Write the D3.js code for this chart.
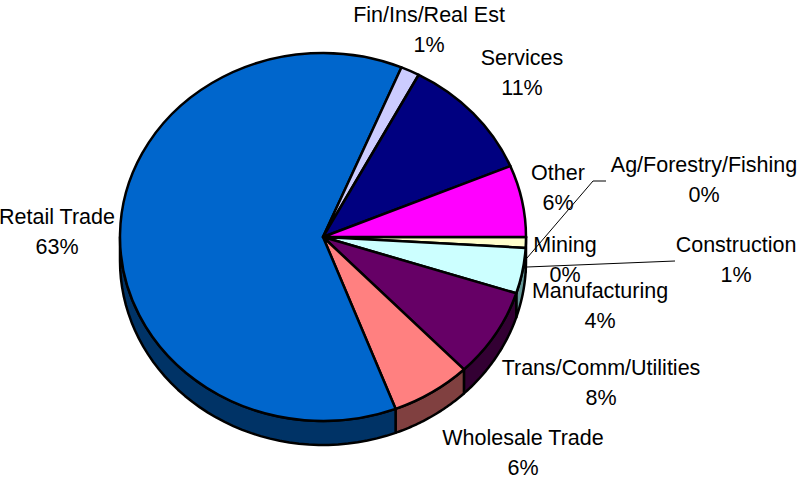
<!DOCTYPE html>
<html>
<head>
<meta charset="utf-8">
<script src="https://cdn.jsdelivr.net/npm/d3@7"></script>
<style>
html, body { margin: 0; padding: 0; background: #fff; }
text { font-family: "Liberation Sans", Arial, sans-serif; font-size: 21.5px; fill: #000; text-anchor: middle; }
</style>
</head>
<body>
<div id="chart"></div>
<script>
'use strict';
const sectors = ['Ag/Forestry/Fishing', 'Mining', 'Construction', 'Manufacturing', 'Trans/Comm/Utilities', 'Wholesale Trade', 'Retail Trade', 'Fin/Ins/Real Est', 'Services', 'Other']
const shares = [0, 0, 0.95, 4, 7.85, 6.4, 62.2, 1.5, 10.9, 6.3]
const shareLabels = ['0%', '0%', '1%', '4%', '8%', '6%', '63%', '1%', '11%', '6%']
const faceColors = ['#ffffff', '#ffffff', '#ffffcc', '#ccffff', '#660066', '#ff8080', '#0066cc', '#ccccff', '#000080', '#ff00ff']
const wallColors = ['#808080', '#808080', '#808066', '#669999', '#330033', '#804040', '#003366', '#666680', '#000040', '#800080']

// Label spots, placed by hand: centre x and first baseline
const labelSpots = [[704, 172], [565, 252], [736, 252], [600, 298], [601, 375], [523, 445], [57, 224], [429, 22], [522, 65], [558, 180]]
const leaderLines = [
    [[527, 258], [593, 181], [606, 181]],
    [[527, 267], [675, 261]]
]

const width = 800
const height = 479
const cx = 323
const cy = 237
const rx = 203
const ry = 184
const depth = 24

const svg = d3.select('#chart').append('svg')
    .attr('width', width)
    .attr('height', height)
    .style('display', 'block')

const pie = d3.pie().sort(null).startAngle(Math.PI / 2).endAngle(Math.PI * 2.5)
const slices = pie(shares)
const arc = d3.arc().innerRadius(0).outerRadius(rx)
const rim = a => [cx + rx * Math.sin(a), cy - ry * Math.cos(a)]
const line = d3.line()

function wallPath(d) {
    // Only the front half of the rim shows a side wall
    const a0 = Math.max(d.startAngle, Math.PI / 2)
    const a1 = Math.min(d.endAngle, Math.PI * 1.5)
    if (a1 <= a0) return null
    const top = d3.range(0, 41).map(i => rim(a0 + (a1 - a0) * i / 40))
    const bottom = top.slice().reverse().map(p => [p[0], p[1] + depth])
    return line(top.concat(bottom)) + 'Z'
}

svg.append('g').selectAll('path') // Side walls
    .data(slices).enter().append('path')
    .attr('d', wallPath)
    .attr('fill', (d, i) => wallColors[i])
    .attr('stroke', '#000')
    .attr('stroke-width', 2.5)
    .attr('stroke-linejoin', 'round')

svg.append('g') // Top face, circle squashed to the tilt of the pie
    .attr('transform', `translate(${cx},${cy}) scale(1,${ry / rx})`)
    .selectAll('path')
    .data(slices).enter().append('path')
    .attr('d', arc)
    .attr('fill', (d, i) => faceColors[i])
    .attr('stroke', '#000')
    .attr('stroke-width', 2.5)
    .attr('stroke-linejoin', 'round')
    .attr('vector-effect', 'non-scaling-stroke')

svg.append('g').selectAll('path') // Leader lines for the small slices
    .data(leaderLines).enter().append('path')
    .attr('d', line)
    .attr('fill', 'none')
    .attr('stroke', '#000')
    .attr('stroke-width', 1)

const labels = svg.append('g').selectAll('text')
    .data(sectors).enter().append('text')
    .attr('transform', (d, i) => `translate(${labelSpots[i][0]},${labelSpots[i][1]})`)
labels.append('tspan')
    .attr('x', 0)
    .text(d => d)
labels.append('tspan')
    .attr('x', 0)
    .attr('dy', 30)
    .text((d, i) => shareLabels[i])
</script>
</body>
</html>
